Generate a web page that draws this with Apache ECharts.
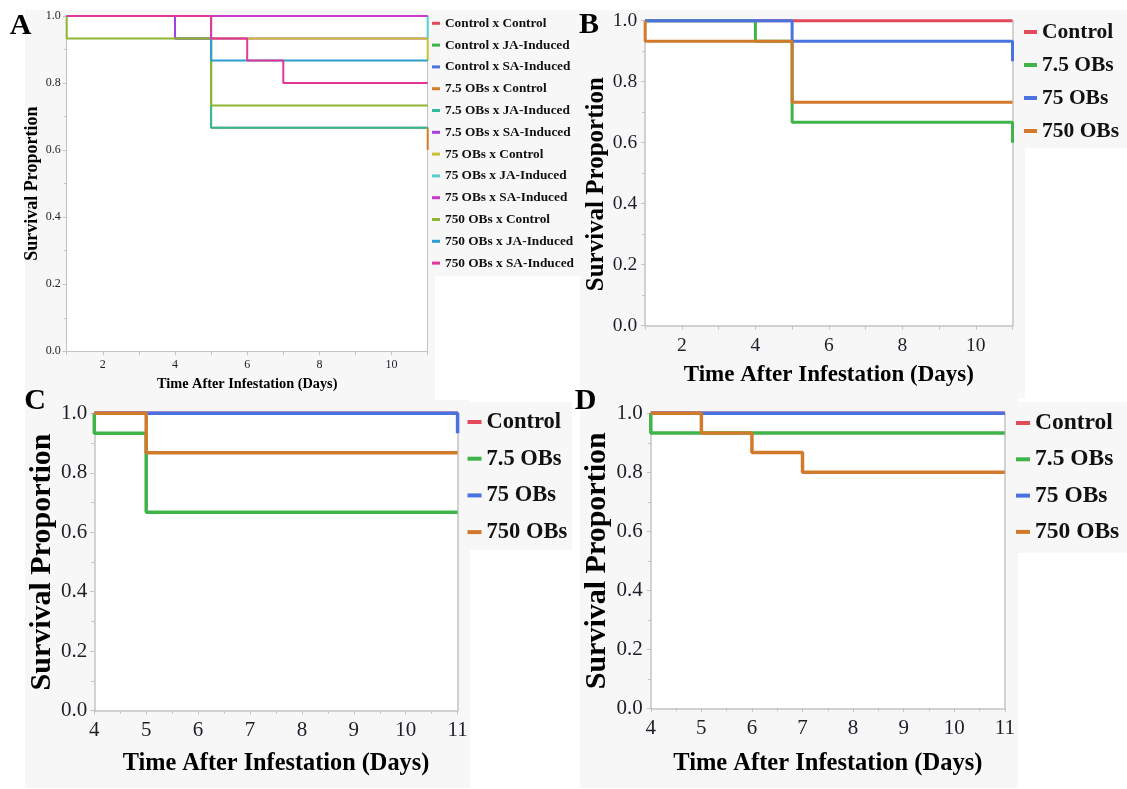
<!DOCTYPE html>
<html><head><meta charset="utf-8">
<script src="https://cdn.jsdelivr.net/npm/echarts@6/dist/echarts.min.js"></script>
<style>html,body{margin:0;padding:0;background:#fff}#c{width:1127px;height:789px}</style>
</head><body><div id="c"></div>
<script>
const SERIF = '"Liberation Serif","Times New Roman",serif';

// ---------- DATA ----------
// Panel A: [day, survival proportion] event points (Kaplan-Meier steps)
const namesA = ['Control x Control','Control x JA-Induced','Control x SA-Induced',
  '7.5 OBs x Control','7.5 OBs x JA-Induced','7.5 OBs x SA-Induced',
  '75 OBs x Control','75 OBs x JA-Induced','75 OBs x SA-Induced',
  '750 OBs x Control','750 OBs x JA-Induced','750 OBs x SA-Induced'];
const aCtrlCtrl = [[1,1],[11,1]];
const aCtrlJA   = [[1,1],[11,1]];
const aCtrlSA   = [[1,1],[11,1]];
const a7Ctrl    = [[1,1],[4,0.933],[5,0.667],[11,0.6]];
const a7JA      = [[1,1],[4,0.933],[5,0.667],[11,0.667]];
const a7SA      = [[1,1],[4,0.933],[11,0.933]];
const a75Ctrl   = [[1,1],[5,0.933],[11,0.867]];
const a75JA     = [[1,1],[11,0.933]];
const a75SA     = [[1,1],[11,1]];
const a750Ctrl  = [[1,1],[1,0.933],[5,0.733],[11,0.733]];
const a750JA    = [[1,1],[5,0.867],[11,0.867]];
const a750SA    = [[1,1],[5,0.933],[6,0.867],[7,0.8],[11,0.8]];
const dataA = [aCtrlCtrl,aCtrlJA,aCtrlSA,a7Ctrl,a7JA,a7SA,a75Ctrl,a75JA,a75SA,a750Ctrl,a750JA,a750SA];

// Panels B, C, D
const namesBCD = ['Control','7.5 OBs','75 OBs','750 OBs'];
const bControl = [[1,1],[11,1]];
const b7       = [[1,1],[4,0.933],[5,0.667],[11,0.6]];
const b75      = [[1,1],[5,0.933],[11,0.867]];
const b750     = [[1,1],[1,0.933],[5,0.733],[11,0.733]];
const cControl = [[4,1],[11,1]];
const c7       = [[4,1],[4,0.933],[5,0.667],[11,0.667]];
const c75      = [[4,1],[11,0.933]];
const c750     = [[4,1],[5,0.867],[11,0.867]];
const dControl = [[4,1],[11,1]];
const d7       = [[4,1],[4,0.933],[11,0.933]];
const d75      = [[4,1],[11,1]];
const d750     = [[4,1],[5,0.933],[6,0.867],[7,0.8],[11,0.8]];
const dataB = [bControl,b7,b75,b750];
const dataC = [cControl,c7,c75,c750];
const dataD = [dControl,d7,d75,d750];

const xTitle = 'Time After Infestation (Days)';
const yTitle = 'Survival Proportion';

// ---------- STYLES ----------
const colorsA = ['#e2495a','#3fb449','#4b72e1','#d27c2c','#2fbb98','#a63fe0',
  '#c9c230','#55cfd0','#cc3acb','#8fb433','#2f9dd0','#e3369a'];
const colorsBCD = ['#e2495a','#3fb449','#4b72e1','#d27a2c'];
const AXC = '#c4c4c4';
const LBL = '#1e1e28';

const grids = [
  {left:66.7, top:16, width:361, height:335.3},
  {left:645.2, top:20.7, width:367.3, height:305},
  {left:94.3, top:413.3, width:363.3, height:297.4},
  {left:650.8, top:413.3, width:354, height:295}
].map(g => Object.assign(g, {show:true, backgroundColor:'#fff', borderWidth:0}));

const cfg = [
  {xmin:1,xmax:11,even:true, tf:12,  xm:8,  ym:6, xns:14.3, xng:26, yns:18, yng:16, aw:1,   minorX:false},
  {xmin:1,xmax:11,even:true, tf:19.5,xm:10, ym:8, xns:23,   xng:38, yns:25, yng:36, aw:1.5, minorX:false},
  {xmin:4,xmax:11,even:false,tf:21,  xm:9,  ym:7, xns:24.3, xng:41, yns:30, yng:32, aw:1.5, minorX:true},
  {xmin:4,xmax:11,even:false,tf:21,  xm:10, ym:8, xns:24.5, xng:43, yns:30, yng:35, aw:1.5, minorX:true}
];

const xAxis = cfg.map((c,i) => ({
  type:'value', gridIndex:i, min:c.xmin, max:c.xmax, interval:1,
  name:xTitle, nameLocation:'middle', nameGap:c.xng,
  nameTextStyle:{fontFamily:SERIF, fontWeight:'bold', fontSize:c.xns, color:'#000'},
  axisLine:{show:true, lineStyle:{color:AXC, width:c.aw}},
  axisTick:{show:true, length:4, lineStyle:{color:AXC}},
  minorTick:{show:c.minorX, splitNumber:2, length:3, lineStyle:{color:AXC}},
  splitLine:{show:false},
  axisLabel:{fontFamily:SERIF, fontSize:c.tf, color:LBL, margin:c.xm,
    formatter: v => (c.even ? (Math.round(v)%2===0 ? String(v) : '') : String(v))}
}));

const yAxis = [];
cfg.forEach((c,i) => {
  yAxis.push({
    type:'value', gridIndex:i, min:0, max:1, interval:0.2, position:'left',
    name:yTitle, nameLocation:'middle', nameGap:c.yng, nameRotate:90,
    nameTextStyle:{fontFamily:SERIF, fontWeight:'bold', fontSize:c.yns, color:'#000',
      padding: i===1 ? [0,22,0,0] : 0},
    axisLine:{show:true, lineStyle:{color:AXC, width:c.aw}},
    axisTick:{show:true, length:4, lineStyle:{color:AXC}},
    minorTick:{show:true, splitNumber:2, length:3, lineStyle:{color:AXC}},
    splitLine:{show:false},
    axisLabel:{fontFamily:SERIF, fontSize:c.tf, color:LBL, margin:c.ym,
      formatter: v => v.toFixed(1)}
  });
  yAxis.push({
    type:'value', gridIndex:i, min:0, max:1, position:'right',
    axisLine:{show:true, lineStyle:{color:AXC, width:c.aw}},
    axisTick:{show:false}, axisLabel:{show:false}, splitLine:{show:false}
  });
});

const series = [];
function addSeries(names, datas, colors, gi, w) {
  names.forEach((n,k) => series.push({
    type:'line', name:n, data:datas[k], step:'end', symbol:'none', showSymbol:false,
    xAxisIndex:gi, yAxisIndex:gi*2, clip:false, color:colors[k],
    lineStyle:{width:w, color:colors[k]}, itemStyle:{color:colors[k]},
    emphasis:{disabled:true}, animation:false
  }));
}
addSeries(namesA, dataA, colorsA, 0, 2);
addSeries(namesBCD, dataB, colorsBCD, 1, 3);
addSeries(namesBCD, dataC, colorsBCD, 2, 3.5);
addSeries(namesBCD, dataD, colorsBCD, 3, 3.5);

function legend(names, left, top, iw, ih, fs, lh, gap) {
  return {
    data:names, orient:'vertical', left:left, top:top, padding:0,
    itemWidth:iw, itemHeight:ih, itemGap:gap, icon:'rect', selectedMode:false,
    textStyle:{fontFamily:SERIF, fontWeight:'bold', fontSize:fs, lineHeight:lh, color:'#111'}
  };
}
const legends = [
  legend(namesA, 432, 15.3, 8, 3, 13.3, 16, 5.8),
  legend(namesBCD, 1024, 20, 13, 4, 21.5, 24, 9),
  legend(namesBCD, 467.5, 409, 14, 4, 22.5, 26, 10.7),
  legend(namesBCD, 1016, 410, 14, 4, 23.5, 26, 10.3)
];

const BG = '#f7f7f7';
function rect(x,y,w,h){ return {type:'rect', shape:{x,y,width:w,height:h}, style:{fill:BG}, z:-10, silent:true}; }
function label(t,x,y){ return {type:'text', x, y, z:10, silent:true,
  style:{text:t, font:'bold 30px '+SERIF, fill:'#000', align:'center', verticalAlign:'middle'}}; }

const graphic = [
  rect(25,10,410,390), rect(427,10,153,266),
  rect(25,400,445,388), rect(469,402,103,148),
  rect(580,10,445,388), rect(1024,10,103,138),
  rect(580,398,438,390), rect(1017,402,110,151),
  label('A',20.5,26), label('B',589,25), label('C',35,401), label('D',585.5,401)
];

const chart = echarts.init(document.getElementById('c'), null, {renderer:'canvas', width:1127, height:789});
chart.setOption({
  animation:false, backgroundColor:'#fff',
  grid:grids, xAxis, yAxis, series, legend:legends, graphic
});
</script></body></html>
